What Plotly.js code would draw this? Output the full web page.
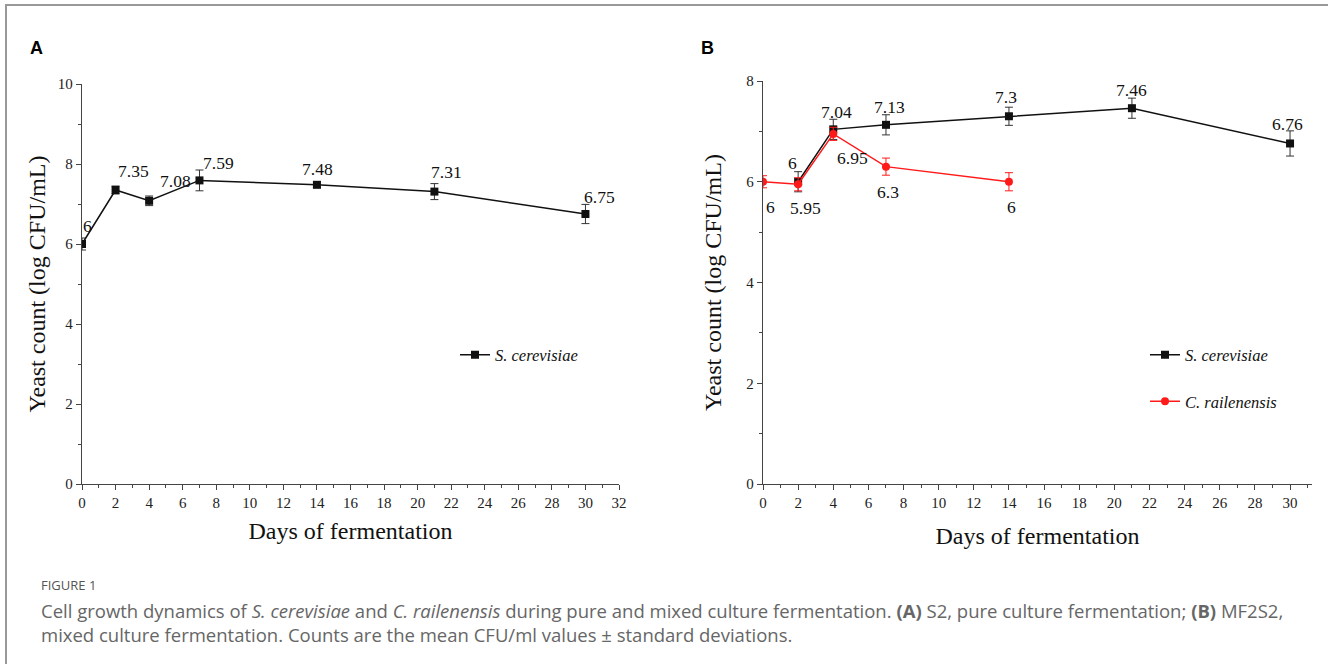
<!DOCTYPE html>
<html><head><meta charset="utf-8">
<script src="https://cdn.plot.ly/plotly-3.0.1.min.js"></script>
<style>
html,body{margin:0;padding:0;background:#fff;}
#wrap{position:relative;width:1328px;height:664px;overflow:hidden;}
#frame{position:absolute;left:5px;top:4px;width:1400px;height:700px;border-top:2px solid #999;border-left:2px solid #999;pointer-events:none;z-index:5;}
#chart{position:absolute;left:0;top:0;width:1328px;height:664px;}
</style></head>
<body><div id="wrap"><div id="chart"></div><div id="frame"></div></div>
<script>
// ---- data ----
const daysA = [0, 2, 4, 7, 14, 21, 30];
const scA = [6, 7.35, 7.08, 7.59, 7.48, 7.31, 6.75];
const scA_sd = [0.15, 0.1, 0.12, 0.26, 0.07, 0.2, 0.24];

const daysB_sc = [2, 4, 7, 14, 21, 30];
const scB = [6, 7.04, 7.13, 7.3, 7.46, 6.76];
const scB_sd = [0.2, 0.2, 0.2, 0.18, 0.2, 0.25];

const daysB_cr = [0, 2, 4, 7, 14];
const crB = [6, 5.95, 6.95, 6.3, 6];
const crB_sd = [0.12, 0.13, 0.13, 0.17, 0.18];

const labelsA = ['6', '7.35', '7.08', '7.59', '7.48', '7.31', '6.75'];
const labelsB_sc = ['6', '7.04', '7.13', '7.3', '7.46', '6.76'];
const labelsB_cr = ['6', '5.95', '6.95', '6.3', '6'];

// ---- label offsets (style) ----
const offA = [[5,18],[18,19],[26,20],[19,17],[1,16],[12,20],[14,17]];
const offBsc = [[-6,19],[3,17],[4,18],[-3,19],[0,18],[-3,19]];
const offBcr = [[7,-25],[7,-24],[19,-24],[2,-25],[3,-25]];

const W = 1328, H = 664;
const px = v => v / W;
const py = v => (H - v) / H;

const serif = 'Liberation Serif, Times New Roman, serif';
const axisCol = '#444';

function axisX(dom, range, anchor, standoff) {
  return {
    domain: dom, range: range, anchor: anchor, showgrid: false, zeroline: false,
    showline: true, linecolor: axisCol, linewidth: 1.2,
    ticks: 'outside', ticklen: 5, tickwidth: 1, tickcolor: axisCol,
    tick0: 0, dtick: 2,
    minor: {ticks: 'outside', ticklen: 3, tickcolor: axisCol, dtick: 1},
    tickfont: {family: serif, size: 15, color: '#222'},
    title: {text: 'Days of fermentation', font: {family: serif, size: 24, color: '#111'}, standoff: standoff},
    fixedrange: true
  };
}
function axisY(dom, range, anchor, standoff) {
  return {
    domain: dom, range: range, anchor: anchor, showgrid: false, zeroline: false,
    showline: true, linecolor: axisCol, linewidth: 1.2,
    ticks: 'outside', ticklen: 5, tickwidth: 1, tickcolor: axisCol,
    tick0: 0, dtick: 2,
    minor: {ticks: 'outside', ticklen: 3, tickcolor: axisCol, dtick: 1},
    tickfont: {family: serif, size: 15, color: '#222'},
    title: {text: 'Yeast count (log CFU/mL)', font: {family: serif, size: 24, color: '#111'}, standoff: standoff},
    fixedrange: true
  };
}

const traces = [
  {
    x: daysA, y: scA, xaxis: 'x', yaxis: 'y', type: 'scatter', mode: 'lines+markers',
    name: '<i>S. cerevisiae</i>', legend: 'legend',
    line: {color: '#111', width: 1.5},
    marker: {symbol: 'square', size: 8, color: '#111'},
    error_y: {type: 'data', array: scA_sd, visible: true, color: '#333', thickness: 1, width: 4}
  },
  {
    x: daysB_sc, y: scB, xaxis: 'x2', yaxis: 'y2', type: 'scatter', mode: 'lines+markers',
    name: '<i>S. cerevisiae</i>', legend: 'legend2', legendgroup: 'g1',
    line: {color: '#111', width: 1.5},
    marker: {symbol: 'square', size: 8, color: '#111'},
    error_y: {type: 'data', array: scB_sd, visible: true, color: '#333', thickness: 1, width: 4}
  },
  {
    x: daysB_cr, y: crB, xaxis: 'x2', yaxis: 'y2', type: 'scatter', mode: 'lines+markers',
    name: '<i>C. railenensis</i>', legend: 'legend2', legendgroup: 'g2',
    line: {color: '#ff1a1a', width: 1.5},
    marker: {symbol: 'circle', size: 8, color: '#ff1a1a'},
    error_y: {type: 'data', array: crB_sd, visible: true, color: '#ff1a1a', thickness: 1, width: 4}
  }
];

const annotations = [];
function addLabels(xs, ys, labels, offs, xr, yr) {
  xs.forEach((xv, i) => {
    annotations.push({
      x: xv, y: ys[i], xref: xr, yref: yr, text: labels[i], showarrow: false,
      xshift: offs[i][0], yshift: offs[i][1],
      font: {family: serif, size: 17.5, color: '#111'}
    });
  });
}
addLabels(daysA, scA, labelsA, offA, 'x', 'y');
addLabels(daysB_sc, scB, labelsB_sc, offBsc, 'x2', 'y2');
addLabels(daysB_cr, crB, labelsB_cr, offBcr, 'x2', 'y2');

// panel letters
annotations.push({x: px(28), y: py(48), xref: 'paper', yref: 'paper', xanchor: 'left', yanchor: 'middle',
  text: '<b>A</b>', showarrow: false, font: {family: 'Liberation Sans, Arial, sans-serif', size: 18, color: '#000'}});
annotations.push({x: px(699), y: py(48), xref: 'paper', yref: 'paper', xanchor: 'left', yanchor: 'middle',
  text: '<b>B</b>', showarrow: false, font: {family: 'Liberation Sans, Arial, sans-serif', size: 18, color: '#000'}});

// caption
const capFont = 'Open Sans, Noto Sans, sans-serif';
annotations.push({x: px(39), y: py(585), xref: 'paper', yref: 'paper', xanchor: 'left', yanchor: 'middle',
  text: 'FIGURE 1', showarrow: false, font: {family: capFont, size: 13, color: '#555'}});
annotations.push({x: px(39), y: py(610), xref: 'paper', yref: 'paper', xanchor: 'left', yanchor: 'middle',
  text: 'Cell growth dynamics of <i>S. cerevisiae</i> and <i>C. railenensis</i> during pure and mixed culture fermentation. <b>(A)</b> S2, pure culture fermentation; <b>(B)</b> MF2S2,',
  showarrow: false, font: {family: capFont, size: 18.5, color: '#666'}});
annotations.push({x: px(39), y: py(634), xref: 'paper', yref: 'paper', xanchor: 'left', yanchor: 'middle',
  text: 'mixed culture fermentation. Counts are the mean CFU/ml values ± standard deviations.',
  showarrow: false, font: {family: capFont, size: 18.5, color: '#666'}});

const layout = {
  width: W, height: H, margin: {l: 0, r: 0, t: 0, b: 0},
  paper_bgcolor: '#fff', plot_bgcolor: 'rgba(0,0,0,0)',
  xaxis: axisX([px(82), px(619)], [0, 32], 'y', 12),
  yaxis: axisY([py(484), py(84)], [0, 10], 'x', 5),
  xaxis2: axisX([px(763), px(1312)], [0, 31.25], 'y2', 17),
  yaxis2: axisY([py(484), py(81)], [0, 8], 'x2', 17),
  legend: {x: px(455), y: py(355), xanchor: 'left', yanchor: 'middle', bgcolor: 'rgba(0,0,0,0)',
    font: {family: serif, size: 16.5, color: '#111'}},
  legend2: {x: px(1145), y: py(378), xanchor: 'left', yanchor: 'middle', bgcolor: 'rgba(0,0,0,0)',
    traceorder: 'grouped', tracegroupgap: 22,
    font: {family: serif, size: 16.5, color: '#111'}},
  annotations: annotations,
  showlegend: true
};

Plotly.newPlot('chart', traces, layout, {displayModeBar: false, staticPlot: true});
</script>
</body></html>
